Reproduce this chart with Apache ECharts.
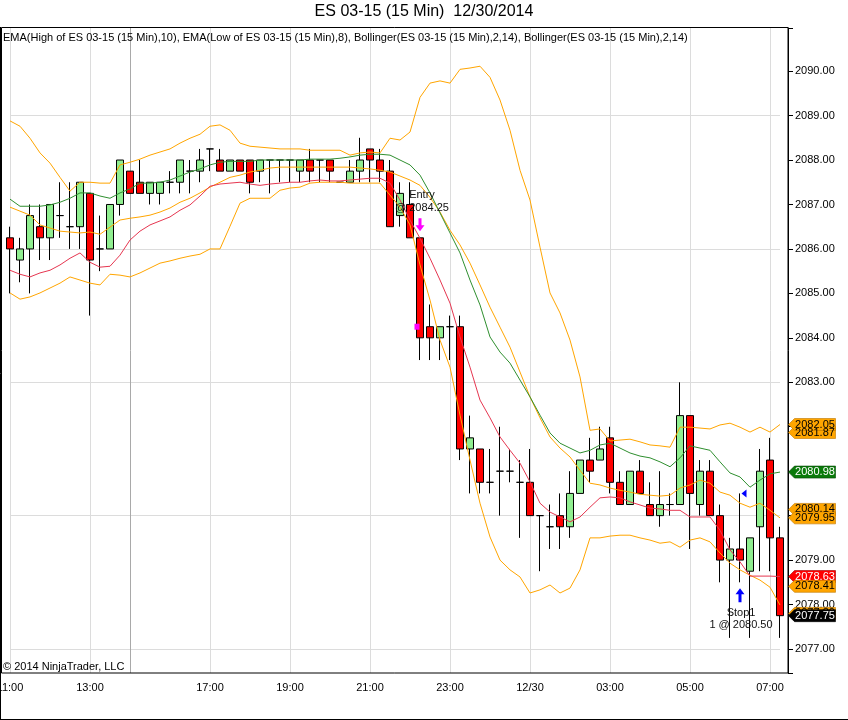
<!DOCTYPE html>
<html>
<head>
<meta charset="UTF-8">
<title>ES 03-15 (15 Min)  12/30/2014</title>
<script src="https://cdn.jsdelivr.net/npm/echarts@6/dist/echarts.min.js"></script>
<style>
body { margin: 0; background: #fff; }
#main { width: 848px; height: 720px; }
</style>
</head>
<body>
<div id="main"></div>
<script type="text/javascript">
// 15 min bars, [open, close, low, high]
var ohlc = [
  [2086.25,2086.00,2085.00,2086.50],[2085.75,2086.00,2085.25,2086.25],[2086.00,2086.75,2085.00,2087.00],
  [2086.50,2086.25,2085.75,2087.00],[2086.25,2087.00,2085.75,2087.00],[2086.75,2086.75,2086.25,2087.50],
  [2086.50,2086.50,2086.00,2087.50],[2086.50,2087.50,2086.00,2087.50],[2087.25,2085.75,2084.50,2087.25],
  [2086.00,2086.00,2085.50,2086.75],[2086.00,2087.00,2086.00,2087.00],[2087.00,2088.00,2086.75,2088.00],
  [2087.75,2087.25,2087.25,2087.75],[2087.50,2087.25,2087.25,2088.00],[2087.25,2087.50,2087.00,2087.50],
  [2087.25,2087.50,2087.00,2087.50],[2087.50,2087.50,2087.25,2087.75],[2087.50,2088.00,2087.25,2088.00],
  [2087.75,2087.75,2087.25,2088.00],[2087.75,2088.00,2087.50,2088.25],[2088.25,2088.25,2087.75,2088.25],
  [2088.00,2087.75,2087.75,2088.25],[2087.75,2088.00,2087.75,2088.00],[2088.00,2087.75,2087.75,2088.00],
  [2088.00,2087.50,2087.25,2088.00],[2087.75,2088.00,2087.50,2088.00],[2088.00,2088.00,2087.25,2088.00],
  [2088.00,2088.00,2087.50,2088.00],[2088.00,2088.00,2087.50,2088.00],[2087.75,2088.00,2087.50,2088.00],
  [2088.00,2087.75,2087.50,2088.25],[2088.00,2088.00,2087.50,2088.00],[2088.00,2087.75,2087.50,2088.00],
  [2087.50,2087.50,2087.50,2087.50],[2087.50,2087.75,2087.50,2088.00],[2087.75,2088.00,2087.50,2088.50],
  [2088.25,2088.00,2087.50,2088.25],[2088.00,2087.75,2087.50,2088.25],[2087.75,2086.50,2086.50,2088.00],
  [2086.75,2087.25,2086.50,2087.50],[2087.00,2086.25,2086.25,2087.50],[2086.25,2084.00,2083.50,2086.25],
  [2084.25,2084.00,2083.50,2084.75],[2084.00,2084.25,2083.50,2084.25],[2084.25,2084.25,2083.50,2084.50],
  [2084.25,2081.50,2081.25,2084.50],[2081.50,2081.75,2080.50,2082.25],[2081.50,2080.75,2080.50,2081.50],
  [2080.75,2080.75,2080.50,2081.50],[2081.00,2081.00,2080.00,2082.00],[2081.00,2081.00,2080.75,2081.50],
  [2080.75,2080.75,2079.50,2081.25],[2080.75,2080.00,2080.00,2081.50],[2080.00,2080.00,2078.75,2080.00],
  [2079.75,2079.75,2079.25,2080.25],[2080.00,2079.75,2079.25,2080.50],[2079.75,2080.50,2079.50,2081.00],
  [2080.50,2081.25,2080.50,2081.25],[2081.25,2081.00,2080.75,2081.75],[2081.25,2081.50,2081.25,2082.00],
  [2081.75,2080.75,2080.50,2082.00],[2080.75,2080.25,2080.25,2081.00],[2080.25,2081.00,2080.25,2081.00],
  [2081.00,2080.50,2080.50,2081.25],[2080.25,2080.00,2080.00,2080.75],[2080.00,2080.25,2079.75,2081.00],
  [2080.25,2080.25,2080.00,2080.50],[2080.25,2082.25,2080.25,2083.00],[2082.25,2080.50,2079.25,2082.25],
  [2080.25,2081.00,2080.00,2081.25],[2081.00,2080.00,2080.00,2081.25],[2080.00,2079.00,2078.50,2080.25],
  [2079.00,2079.25,2077.25,2079.50],[2079.25,2079.00,2078.50,2080.50],[2078.75,2079.50,2077.25,2079.50],
  [2079.75,2081.00,2078.75,2081.50],[2081.25,2079.50,2078.75,2081.75],[2079.50,2077.75,2077.25,2079.75]
];

var emaHigh = [
  2087.12,2086.96,2086.96,2086.96,2086.99,2087.05,2087.14,2087.26,2087.26,2087.19,
  2087.14,2087.26,2087.35,2087.48,2087.48,2087.50,2087.55,2087.64,2087.73,2087.80,
  2087.89,2087.95,2087.97,2087.97,2087.97,2088.00,2088.00,2088.00,2088.00,2088.00,
  2088.02,2088.02,2088.02,2088.04,2088.07,2088.11,2088.13,2088.13,2088.11,2088.00,
  2087.89,2087.66,2087.26,2086.81,2086.36,2085.91,2085.30,2084.74,2084.02,2083.68,
  2083.43,2083.05,2082.67,2082.26,2081.86,2081.63,2081.52,2081.41,2081.47,2081.59,
  2081.63,2081.52,2081.41,2081.34,2081.30,2081.21,2081.10,2081.30,2081.57,2081.52,
  2081.47,2081.21,2080.96,2080.87,2080.64,2080.80,2080.94,2080.98
];

var emaLow = [
  2085.52,2085.43,2085.37,2085.46,2085.52,2085.64,2085.79,2085.91,2085.70,2085.59,
  2085.61,2085.86,2086.20,2086.40,2086.54,2086.63,2086.72,2086.87,2086.99,2087.19,
  2087.41,2087.46,2087.48,2087.50,2087.46,2087.43,2087.46,2087.48,2087.50,2087.50,
  2087.53,2087.55,2087.53,2087.53,2087.55,2087.57,2087.59,2087.59,2087.48,2087.10,
  2086.65,2086.24,2085.79,2085.30,2084.78,2084.02,2083.34,2082.60,2082.20,2081.77,
  2081.47,2081.18,2080.76,2080.28,2080.08,2079.97,2079.86,2079.97,2080.19,2080.40,
  2080.42,2080.40,2080.31,2080.24,2080.17,2080.15,2080.12,2080.12,2079.97,2079.97,
  2079.97,2079.67,2079.23,2078.96,2078.64,2078.64,2078.64,2078.63
];

var bbUpper = [
  2088.88,2088.76,2088.49,2088.16,2087.93,2087.61,2087.30,2087.50,2087.50,2087.48,
  2087.48,2087.89,2087.95,2088.02,2088.11,2088.18,2088.25,2088.38,2088.49,2088.58,
  2088.76,2088.79,2088.67,2088.38,2088.31,2088.29,2088.27,2088.25,2088.25,2088.25,
  2088.22,2088.22,2088.22,2088.22,2088.11,2088.16,2088.18,2088.16,2088.49,2088.45,
  2088.63,2089.41,2089.73,2089.78,2089.73,2090.04,2090.07,2090.11,2089.86,2089.35,
  2088.67,2087.77,2087.10,2086.04,2085.01,2084.56,2083.95,2083.12,2081.92,2081.95,
  2081.68,2081.70,2081.72,2081.66,2081.59,2081.57,2081.54,2081.99,2081.99,2081.97,
  2081.95,2082.04,2082.08,2081.99,2081.88,2081.99,2081.88,2082.05
];

var bbMiddle = [
  2086.94,2086.85,2086.76,2086.54,2086.47,2086.40,2086.38,2086.36,2086.38,2086.33,
  2086.49,2086.65,2086.69,2086.72,2086.76,2086.83,2086.92,2087.05,2087.14,2087.26,
  2087.39,2087.50,2087.61,2087.66,2087.73,2087.77,2087.82,2087.84,2087.84,2087.84,
  2087.84,2087.84,2087.84,2087.84,2087.84,2087.82,2087.80,2087.77,2087.73,2087.64,
  2087.55,2087.43,2087.16,2086.83,2086.42,2086.09,2085.68,2085.19,2084.69,2084.24,
  2083.79,2083.23,2082.67,2082.20,2081.77,2081.52,2081.32,2081.02,2080.73,2080.69,
  2080.62,2080.57,2080.53,2080.48,2080.46,2080.44,2080.46,2080.62,2080.69,2080.80,
  2080.73,2080.53,2080.46,2080.28,2080.19,2080.28,2080.12,2079.95
];

var bbLower = [
  2085.01,2084.87,2084.92,2085.01,2085.12,2085.23,2085.37,2085.30,2085.23,2085.19,
  2085.43,2085.41,2085.37,2085.46,2085.57,2085.68,2085.73,2085.79,2085.84,2085.88,
  2086.00,2086.00,2086.51,2087.03,2087.14,2087.14,2087.14,2087.32,2087.37,2087.39,
  2087.48,2087.50,2087.50,2087.50,2087.48,2087.48,2087.48,2087.48,2087.21,2086.94,
  2086.54,2085.64,2084.85,2083.95,2083.34,2082.26,2081.25,2080.28,2079.52,2079.00,
  2078.78,2078.62,2078.26,2078.33,2078.44,2078.26,2078.37,2078.78,2079.50,2079.50,
  2079.54,2079.56,2079.56,2079.50,2079.45,2079.38,2079.41,2079.29,2079.45,2079.50,
  2079.41,2079.16,2078.93,2078.78,2078.66,2078.55,2078.39,2077.99
];

// time axis labels and the bar they sit on
var timeLabels = ['11:00','13:00','17:00','19:00','21:00','23:00','12/30','03:00','05:00','07:00'];
var timeLabelBars = [0, 8, 20, 28, 36, 44, 52, 60, 68, 76];
var sessionBreakBar = 12;
var gridPrices = [2077, 2080, 2083, 2086, 2089];

// price markers on the right edge (later ones are drawn on top)
var tagValues = [2081.87, 2082.05, 2080.98, 2080.14, 2079.95, 2078.63, 2078.41, 2077.80, 2077.75];
var tagKinds  = ['bb', 'bb', 'emaH', 'bb', 'bb', 'emaL', 'bb', 'bb', 'last'];

var entryBar = 41, entryPrice = 2084.25;
var stopBar = 73, stopPrice = 2080.50, stopName = 'Stop1';

var FONT = '"Liberation Sans", Arial, sans-serif';
var bars = ohlc.map(function (d, i) { return i; });
var lastBar = ohlc.length - 1;

function isLabelBar(i) { return timeLabelBars.indexOf(i) >= 0; }

var tagStyle = {
  bb:   { bg: '#ffa500', fg: '#000', bd: '#c07800' },
  emaH: { bg: '#0a7a0a', fg: '#fff', bd: '#064806' },
  emaL: { bg: '#ff0000', fg: '#fff', bd: '#a00000' },
  last: { bg: '#000000', fg: '#fff', bd: '#000' }
};

var marks = tagValues.map(function (v, k) {
  var s = tagStyle[tagKinds[k]];
  return {
    coord: [lastBar, v],
    symbol: 'path://M0,6L6,0L47,0L47,12L6,12Z',
    symbolSize: [47, 12],
    symbolOffset: [32, 0],
    itemStyle: { color: s.bg, borderColor: s.bd, borderWidth: 0.5 },
    label: { show: true, position: 'inside', offset: [3, 0], formatter: v.toFixed(2),
             color: s.fg, fontSize: 11, fontFamily: FONT }
  };
});

var noLabel = { show: false };
// entry: magenta arrow over the bar, text above it, small square at fill price
marks.push({
  coord: [entryBar, ohlc[entryBar][3]],
  symbol: 'path://M3,0L6,0L6,7L9,7L4.5,13L0,7L3,7Z', symbolSize: [9, 13], symbolOffset: [0, -13],
  itemStyle: { color: '#ff00ff' }, label: noLabel
});
marks.push({
  coord: [entryBar, ohlc[entryBar][3]],
  symbol: 'rect', symbolSize: 1, symbolOffset: [2, -36],
  itemStyle: { color: 'rgba(0,0,0,0)' },
  label: { show: true, position: 'inside', formatter: 'Entry\n@ ' + entryPrice.toFixed(2),
           color: '#111', fontSize: 11, lineHeight: 13, fontFamily: FONT }
});
marks.push({
  coord: [entryBar, entryPrice],
  symbol: 'rect', symbolSize: [5, 6], symbolOffset: [-3, 0],
  itemStyle: { color: '#ff00ff' }, label: noLabel
});
// stop: blue arrow under the bar, text below, small flag at the fill price
marks.push({
  coord: [stopBar, ohlc[stopBar][2]],
  symbol: 'path://M4.5,0L9,6L6,6L6,14L3,14L3,6L0,6Z', symbolSize: [9, 14], symbolOffset: [0, 13],
  itemStyle: { color: '#0000ff' }, label: noLabel
});
marks.push({
  coord: [stopBar, ohlc[stopBar][2]],
  symbol: 'rect', symbolSize: 1, symbolOffset: [1, 37],
  itemStyle: { color: 'rgba(0,0,0,0)' },
  label: { show: true, position: 'inside', formatter: stopName + '\n1 @ ' + stopPrice.toFixed(2),
           color: '#111', fontSize: 11, lineHeight: 12, fontFamily: FONT }
});
marks.push({
  coord: [stopBar, stopPrice],
  symbol: 'path://M0,4L5,0L5,8Z', symbolSize: [5, 8], symbolOffset: [4, 0],
  itemStyle: { color: '#0000ff' }, label: noLabel
});

function lineSeries(name, data, color) {
  return {
    name: name, type: 'line', data: data, showSymbol: false, symbol: 'none',
    lineStyle: { color: color, width: 1 }, z: 3, silent: true
  };
}

var gridLineData = gridPrices.map(function (p) { return { yAxis: p }; });

var option = {
  animation: false,
  backgroundColor: '#fff',
  title: [
    { text: 'ES 03-15 (15 Min)  12/30/2014', left: 'center', top: 4, padding: 0,
      textStyle: { fontSize: 16, fontWeight: 'normal', color: '#000', fontFamily: FONT } },
    { text: 'EMA(High of ES 03-15 (15 Min),10), EMA(Low of ES 03-15 (15 Min),8), Bollinger(ES 03-15 (15 Min),2,14), Bollinger(ES 03-15 (15 Min),2,14)',
      left: 3, top: 32, padding: 0,
      textStyle: { fontSize: 11, fontWeight: 'normal', color: '#000', fontFamily: FONT } },
    { text: '\u00a9 2014 NinjaTrader, LLC', left: 3, top: 661, padding: 0,
      textStyle: { fontSize: 11, fontWeight: 'normal', color: '#000', fontFamily: FONT } }
  ],
  grid: { left: 10, right: 68, top: 28, bottom: 47, outerBoundsMode: 'none' },
  xAxis: {
    type: 'category', data: bars, boundaryGap: false,
    axisLine: { show: false }, axisTick: { show: false },
    axisLabel: {
      interval: function (i) { return isLabelBar(i); },
      formatter: function (v, i) { return timeLabels[timeLabelBars.indexOf(i)] || ''; },
      color: '#000', fontSize: 11, fontFamily: FONT, margin: 9
    },
    splitLine: {
      show: true,
      interval: function (i) { return isLabelBar(i); },
      lineStyle: { color: '#dcdcdc', width: 1 }
    }
  },
  yAxis: {
    type: 'value', position: 'right', offset: 8, scale: true,
    min: 2076.46, max: 2090.97, minInterval: 1, maxInterval: 1,
    axisLine: { show: true, lineStyle: { color: '#000', width: 1 } },
    axisTick: { show: true, length: 5, lineStyle: { color: '#000' } },
    axisLabel: {
      color: '#000', fontSize: 11, fontFamily: FONT, margin: 7,
      formatter: function (v) { return Math.abs(v - Math.round(v)) < 1e-6 ? v.toFixed(2) : ''; }
    },
    splitLine: { show: false }
  },
  graphic: [
    { type: 'rect', silent: true, z: 10,
      shape: { x: 1.5, y: 27.5, width: 786.5, height: 645.5 },
      style: { fill: null, stroke: '#000', lineWidth: 1 } },
    { type: 'line', silent: true, shape: { x1: 0.5, y1: 27, x2: 0.5, y2: 720 },
      style: { stroke: '#000', lineWidth: 1 } },
    { type: 'line', silent: true, shape: { x1: 0, y1: 719.5, x2: 848, y2: 719.5 },
      style: { stroke: '#000', lineWidth: 1 } }
  ],
  series: [
    {
      name: 'grid', type: 'line', data: [], silent: true, z: 0,
      markLine: {
        z: 0, silent: true, symbol: ['none', 'none'], label: { show: false },
        lineStyle: { color: '#dcdcdc', type: 'solid', width: 1 },
        emphasis: { disabled: true },
        data: gridLineData.concat([{ xAxis: sessionBreakBar, lineStyle: { color: '#a9a9a9' } }])
      }
    },
    {
      name: 'ES 03-15', type: 'candlestick', data: ohlc, barWidth: 7, clip: false, z: 2,
      itemStyle: {
        color: '#90ee90', color0: '#ff0000',
        borderColor: '#000', borderColor0: '#000', borderWidth: 1
      },
      emphasis: { disabled: true },
      markPoint: { z: 20, silent: true, data: marks }
    },
    lineSeries('Bollinger upper', bbUpper, '#ffa500'),
    lineSeries('Bollinger middle', bbMiddle, '#ffa500'),
    lineSeries('Bollinger lower', bbLower, '#ffa500'),
    lineSeries('EMA high', emaHigh, '#2f8f2f'),
    lineSeries('EMA low', emaLow, '#e63650')
  ]
};

var myChart = echarts.init(document.getElementById('main'));
myChart.setOption(option);
</script>
</body>
</html>
